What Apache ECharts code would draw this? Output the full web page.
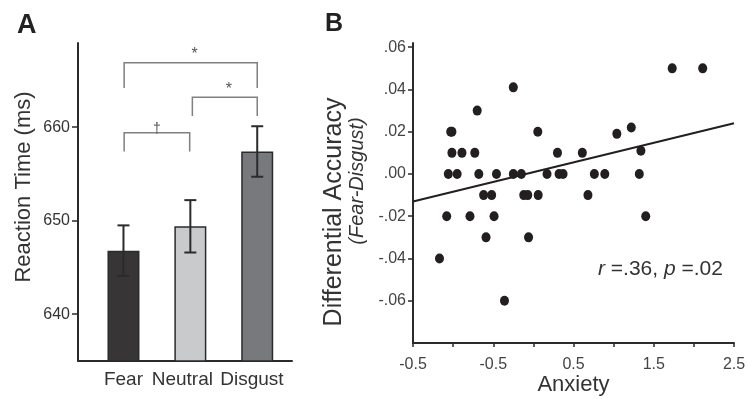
<!DOCTYPE html>
<html>
<head>
<meta charset="utf-8">
<script src="https://cdn.jsdelivr.net/npm/echarts@6/dist/echarts.min.js"></script>
<style>
  html, body { margin: 0; padding: 0; background: #fff; }
  #main { width: 747px; height: 399px; }
</style>
</head>
<body>
<div id="main"></div>
<script>
// Panel A: reaction time per condition
const conditions = ['Fear', 'Neutral', 'Disgust'];
const rtMean = [646.8, 649.4, 657.4];
const rtErr = [2.7, 2.8, 2.7];
const rtColors = ['#383536', '#c9cacc', '#77797c'];
const rtTicks = [640, 650, 660];
const conditionLabelAt = [1, 1.88, 2.92]; // labels are packed tighter than the bars

// significance brackets: from, to, bar height, leg end, mark
const bracketFrom = [1.01, 2.03, 1.01];
const bracketTo = [3.0, 3.0, 1.99];
const bracketTop = [666.9, 663.2, 659.4];
const bracketLeg = [664.2, 661.2, 657.4];
const bracketMark = ['*', '*', '\u2020'];

// Panel B: anxiety vs differential accuracy
const anxiety = [
  -1.17, -1.08, -1.06, -0.95, -1.03, -1.015, -1.015, -0.89, -0.79, -0.73,
  -0.70, -0.68, -0.62, -0.52, -0.59, -0.49, -0.46, -0.36, -0.25, -0.15,
  -0.25, -0.12, -0.07, 0.06, -0.06, 0.055, 0.17, 0.30, 0.32, 0.37,
  0.61, 0.68, 0.76, 0.89, 1.04, 1.22, 1.32, 1.34, 1.40, 1.73, 2.11
];
const diffAccuracy = [
  -0.04, -0.02, 0.00, 0.00, 0.02, 0.02, 0.01, 0.01, -0.02, 0.01,
  0.03, 0.00, -0.01, -0.01, -0.03, -0.02, 0.00, -0.06, 0.00, 0.00,
  0.041, -0.01, -0.01, -0.01, -0.03, 0.02, 0.00, 0.01, 0.00, 0.00,
  0.01, -0.01, 0.00, 0.00, 0.019, 0.022, 0.00, 0.011, -0.02, 0.05, 0.05
];
const fitX = [-1.5, 2.5];
const fitY = [-0.013, 0.024];
const accTicks = [-0.06, -0.04, -0.02, 0, 0.02, 0.04, 0.06];
const accLabels = ['-.06', '-.04', '-.02', '.00', '.02', '.04', '.06'];
const anxTicks = [-1.5, -1, -0.5, 0, 0.5, 1, 1.5, 2, 2.5];
const anxLabelValues = [-1.5, -0.5, 0.5, 1.5, 2.5];
const anxLabels = ['-0.5', '-0.5', '0.5', '1.5', '2.5'];
const statR = '.36';
const statP = '.02';

const font = 'Liberation Sans, Arial, sans-serif';
const narrow = 'Liberation Sans Narrow, Liberation Sans, Arial, sans-serif';
const ink = '#2b2b2b';

const myChart = echarts.init(document.getElementById('main'));

const option = {
  animation: false,
  backgroundColor: '#fff',
  title: [
    { text: 'A', left: 12, top: 7, textStyle: { fontFamily: font, fontSize: 27, fontWeight: 'bold', color: '#222' } },
    { text: 'B', left: 320, top: 7, textStyle: { fontFamily: font, fontSize: 25, fontWeight: 'bold', color: '#222' } },
  ],
  grid: [
    { left: 78, right: 455, top: 43, bottom: 38, containLabel: false, outerBoundsMode: 'none' },
    { left: 413, right: 13, top: 43, bottom: 56, containLabel: false, outerBoundsMode: 'none' },
  ],
  xAxis: [
    {
      gridIndex: 0,
      type: 'value',
      min: 0.32,
      max: 3.52,
      splitLine: { show: false },
      axisLine: { onZero: false, lineStyle: { color: ink, width: 2 } },
      axisTick: { show: false },
      axisLabel: {
        customValues: conditionLabelAt,
        formatter: (v) => conditions[conditionLabelAt.indexOf(v)],
        margin: 9,
        fontFamily: font,
        fontSize: 19,
        color: '#333',
      },
    },
    {
      gridIndex: 1,
      type: 'value',
      min: -1.5,
      max: 2.5,
      splitLine: { show: false },
      axisLine: { onZero: false, lineStyle: { color: ink, width: 2 } },
      axisTick: { customValues: anxTicks, length: 4, lineStyle: { color: ink, width: 1.5 } },
      axisLabel: {
        customValues: anxLabelValues,
        formatter: (v) => anxLabels[anxLabelValues.indexOf(v)],
        margin: 14,
        fontFamily: narrow,
        fontSize: 16,
        color: '#444',
      },
      name: 'Anxiety',
      nameLocation: 'middle',
      nameGap: 31,
      nameMoveOverlap: false,
      nameTextStyle: { fontFamily: font, fontSize: 22, color: '#333' },
    },
  ],
  yAxis: [
    {
      gridIndex: 0,
      type: 'value',
      min: 635,
      max: 669,
      splitLine: { show: false },
      axisLine: { show: true, onZero: false, lineStyle: { color: ink, width: 2 } },
      axisTick: { show: true, customValues: rtTicks, length: 6, lineStyle: { color: ink, width: 1.5 } },
      axisLabel: {
        customValues: rtTicks,
        margin: 8,
        fontFamily: font,
        fontSize: 16,
        color: '#333',
      },
      name: 'Reaction Time (ms)',
      nameLocation: 'middle',
      nameGap: 43,
      nameMoveOverlap: false,
      nameTextStyle: { fontFamily: font, fontSize: 22, color: '#333', padding: [0, 0, 0, 30] },
    },
    {
      gridIndex: 1,
      type: 'value',
      min: -0.08,
      max: 0.062,
      splitLine: { show: false },
      axisLine: { show: true, onZero: false, lineStyle: { color: ink, width: 2 } },
      axisTick: { show: true, customValues: accTicks, length: 5, lineStyle: { color: ink, width: 1.5 } },
      axisLabel: {
        customValues: accTicks,
        formatter: (v) => accLabels[accTicks.findIndex((t) => Math.abs(t - v) < 1e-9)],
        margin: 7,
        fontFamily: narrow,
        fontSize: 16,
        color: '#444',
      },
      name: '{a|Differential Accuracy}\n{b|(Fear-Disgust)}',
      nameLocation: 'middle',
      nameGap: 45,
      nameMoveOverlap: false,
      nameTextStyle: {
        rich: {
          a: { fontFamily: font, fontSize: 25, color: '#333', lineHeight: 23, padding: [0, 38, 0, 0] },
          b: { fontFamily: font, fontSize: 20, fontStyle: 'italic', color: '#333', lineHeight: 22, padding: [0, 0, 0, 24] },
        },
      },
    },
  ],
  series: [
    {
      type: 'bar',
      xAxisIndex: 0,
      yAxisIndex: 0,
      barWidth: 32,
      data: rtMean.map((m, i) => ({
        value: [i + 1, m],
        itemStyle: { color: rtColors[i], borderColor: ink, borderWidth: 1.5 },
      })),
    },
    {
      type: 'custom',
      xAxisIndex: 0,
      yAxisIndex: 0,
      z: 5,
      encode: { x: 0, y: [1, 2] },
      data: rtMean.map((m, i) => [i + 1, m - rtErr[i], m + rtErr[i]]),
      renderItem: function (params, api) {
        const hi = api.coord([api.value(0), api.value(2)]);
        const lo = api.coord([api.value(0), api.value(1)]);
        const w = 6;
        const ls = { stroke: ink, lineWidth: 2 };
        return {
          type: 'group',
          children: [
            { type: 'line', shape: { x1: hi[0], y1: hi[1], x2: lo[0], y2: lo[1] }, style: ls },
            { type: 'line', shape: { x1: hi[0] - w, y1: hi[1], x2: hi[0] + w, y2: hi[1] }, style: ls },
            { type: 'line', shape: { x1: lo[0] - w, y1: lo[1], x2: lo[0] + w, y2: lo[1] }, style: ls },
          ],
        };
      },
    },
    {
      type: 'custom',
      xAxisIndex: 0,
      yAxisIndex: 0,
      z: 5,
      encode: { x: [0, 1], y: [2, 3] },
      data: bracketFrom.map((f, i) => [f, bracketTo[i], bracketTop[i], bracketLeg[i]]),
      renderItem: function (params, api) {
        const a = api.coord([api.value(0), api.value(2)]);
        const b = api.coord([api.value(1), api.value(2)]);
        const legY = api.coord([api.value(0), api.value(3)])[1];
        const mark = bracketMark[params.dataIndex];
        const dagger = mark !== '*';
        return {
          type: 'group',
          children: [
            {
              type: 'polyline',
              shape: { points: [[a[0], legY], a, b, [b[0], legY]] },
              style: { stroke: '#808080', lineWidth: 1.5, fill: null },
            },
            {
              type: 'text',
              style: {
                text: mark,
                x: (a[0] + b[0]) / 2 + (dagger ? 0 : 4),
                y: a[1] + (dagger ? 3 : 0),
                align: 'center',
                verticalAlign: 'bottom',
                fontFamily: font,
                fontSize: dagger ? 14 : 16,
                fill: '#555',
              },
            },
          ],
        };
      },
    },
    {
      type: 'scatter',
      xAxisIndex: 1,
      yAxisIndex: 1,
      symbolSize: [9, 10],
      itemStyle: { color: '#231f20', opacity: 1 },
      data: anxiety.map((x, i) => [x, diffAccuracy[i]]),
    },
    {
      type: 'line',
      xAxisIndex: 1,
      yAxisIndex: 1,
      showSymbol: false,
      lineStyle: { color: '#231f20', width: 2 },
      data: fitX.map((x, i) => [x, fitY[i]]),
    },
  ],
  graphic: [
    {
      type: 'text',
      left: 598,
      top: 259,
      style: {
        text: '{i|r} =' + statR + ', {i|p} =' + statP,
        fontFamily: font,
        fontSize: 21,
        fill: '#333',
        rich: {
          i: { fontFamily: font, fontSize: 21, fontStyle: 'italic', fill: '#333' },
        },
      },
    },
  ],
};

myChart.setOption(option);
</script>
</body>
</html>
